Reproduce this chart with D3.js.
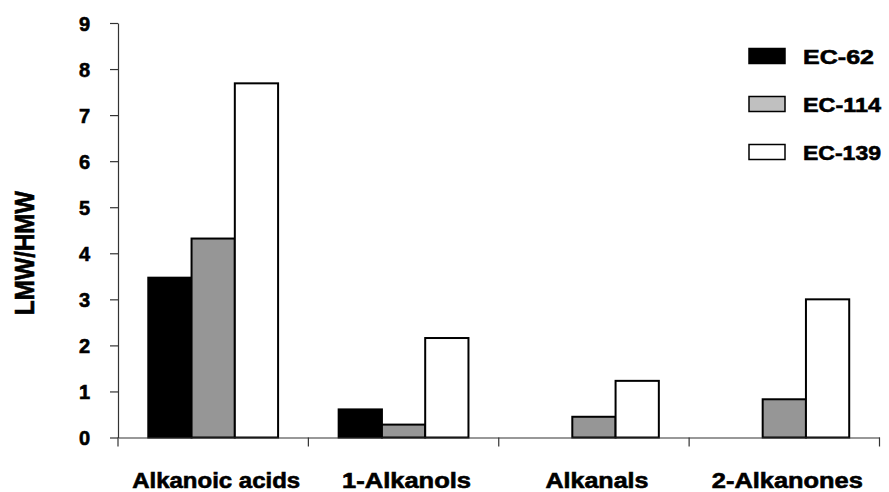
<!DOCTYPE html>
<html><head><meta charset="utf-8">
<script src="https://cdn.jsdelivr.net/npm/d3@7"></script>
<style>body{margin:0;background:#fff}text{font-family:"Liberation Sans",Arial,sans-serif;font-weight:bold;fill:#000;stroke:#000;stroke-width:0.6px}</style>
</head><body>
<script>
const categories = ["Alkanoic acids", "1-Alkanols", "Alkanals", "2-Alkanones"];
const seriesNames = ["EC-62", "EC-114", "EC-139"];
const ec62 = [3.47, 0.61, null, null];
const ec114 = [4.32, 0.28, 0.45, 0.83];
const ec139 = [7.69, 2.16, 1.23, 3.0];
const yTicks = [0, 1, 2, 3, 4, 5, 6, 7, 8, 9];
const barColors = ["#000000", "#969696", "#ffffff"];
const legendColors = ["#000000", "#c0c0c0", "#ffffff"];
const catLabelWidths = [168, 129, 103, 151];
const legendWidths = [71, 78, 78];

const W = 889, H = 492;
const m = {l: 118};
const svg = d3.select("body").append("svg").attr("width", W).attr("height", H);

const x = d3.scaleBand().domain(categories).range([m.l, 879.5]).padding(0);
const xs = d3.scaleBand().domain(seriesNames).range([0, x.bandwidth()]).paddingInner(0).paddingOuter(0.7);
const y = d3.scaleLinear().domain([0, 9]).range([437.5, 23]);

const data = [ec62, ec114, ec139];

// bars
seriesNames.forEach((s, si) => {
  svg.append("g").selectAll("rect")
    .data(categories.map((c, ci) => ({c, v: data[si][ci]})).filter(d => d.v != null))
    .join("rect")
    .attr("x", d => x(d.c) + xs(s))
    .attr("y", d => y(d.v))
    .attr("width", xs.bandwidth())
    .attr("height", d => y(0) - y(d.v))
    .attr("fill", barColors[si])
    .attr("stroke", "#000")
    .attr("stroke-width", 2);
});

// y axis
const ya = svg.append("g").attr("transform", `translate(${m.l},0)`)
  .call(d3.axisLeft(y).tickValues(yTicks).tickFormat(d3.format("d")).tickSize(8).tickSizeOuter(0).tickPadding(20));
ya.select(".domain").attr("stroke", "#333").attr("stroke-width", 1.2);
ya.selectAll(".tick line").attr("stroke", "#333").attr("stroke-width", 1.2);
ya.selectAll(".tick text").style("font-size", "20px").attr("fill", "#000").attr("dy", "0.36em");

// x axis
const xa = svg.append("g").attr("transform", `translate(0,${y(0)})`)
  .call(d3.axisBottom(x).tickSize(0).tickSizeOuter(0).tickFormat(""));
xa.select(".domain").attr("stroke", "#333").attr("stroke-width", 1.2);
const edges = categories.map(c => x(c)).concat([x(categories[categories.length - 1]) + x.bandwidth()]);
xa.selectAll(".edge").data(edges).join("line")
  .attr("x1", d => d).attr("x2", d => d).attr("y1", 0).attr("y2", 9)
  .attr("stroke", "#333").attr("stroke-width", 1.2);

// category labels
svg.append("g").selectAll("text").data(categories).join("text")
  .attr("x", (d, i) => x(d) + x.bandwidth() / 2 - catLabelWidths[i] / 2 + 3)
  .attr("y", 488)
  .attr("textLength", (d, i) => catLabelWidths[i])
  .attr("lengthAdjust", "spacingAndGlyphs")
  .style("font-size", "21.5px")
  .text(d => d);

// y title
svg.append("text")
  .attr("transform", "translate(33.5,253) rotate(-90)")
  .attr("text-anchor", "middle")
  .attr("textLength", 124)
  .attr("lengthAdjust", "spacingAndGlyphs")
  .style("font-size", "27px")
  .text("LMW/HMW");

// legend
const lg = svg.append("g");
seriesNames.forEach((s, i) => {
  const yy = 48.5 + i * 48;
  lg.append("rect").attr("x", 749).attr("y", yy).attr("width", 36).attr("height", 15)
    .attr("fill", legendColors[i]).attr("stroke", "#000").attr("stroke-width", 1.5);
  lg.append("text").attr("x", 803).attr("y", yy + 15)
    .attr("textLength", legendWidths[i]).attr("lengthAdjust", "spacingAndGlyphs")
    .style("font-size", "21px").text(s);
});
</script>
</body></html>
